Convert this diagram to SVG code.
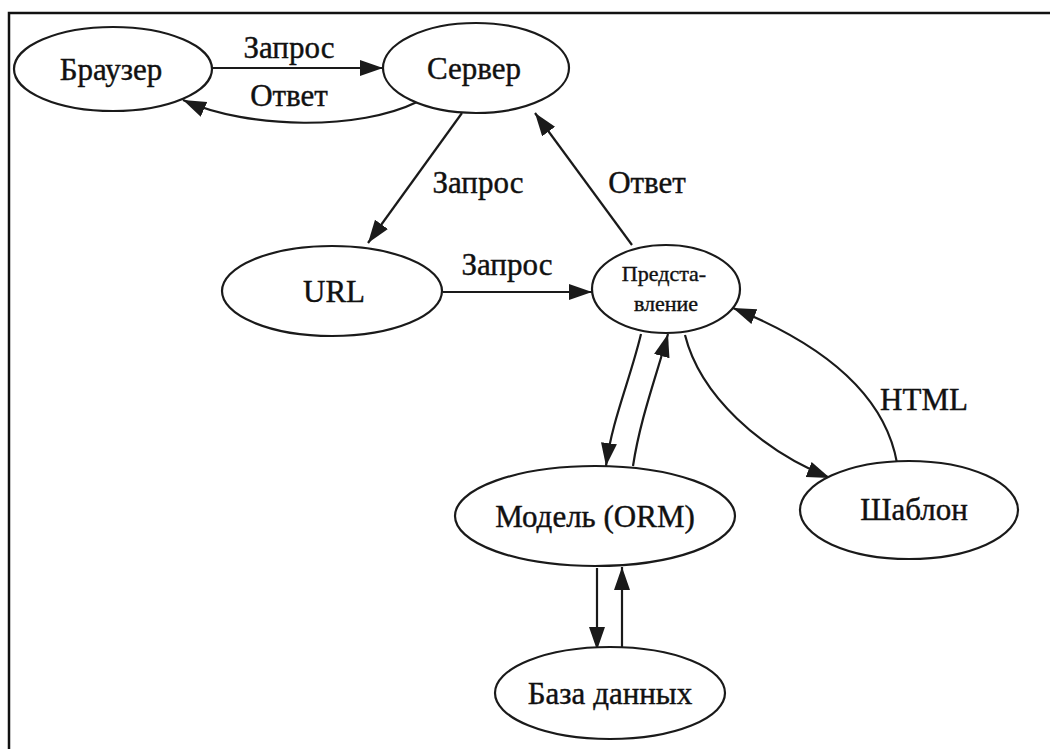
<svg xmlns="http://www.w3.org/2000/svg" width="1050" height="749" viewBox="0 0 1050 749">
  <style>
    .node ellipse { fill: #ffffff; stroke: #1a1a1a; stroke-width: 2.2; }
    .lbl { font-family: "Liberation Serif", "DejaVu Serif", serif; font-size: 31px; fill: #111111; text-anchor: middle; stroke: #111111; stroke-width: 0.4; }
    .small { font-size: 22px; }
    .edge { fill: none; stroke: #1a1a1a; stroke-width: 2.2; marker-end: url(#arrow); }
    .frame { fill: none; stroke: #111111; stroke-width: 2.5; }
  </style>
  <defs>
    <marker id="arrow" markerUnits="userSpaceOnUse" markerWidth="26" markerHeight="18" refX="23" refY="8" orient="auto">
      <path d="M0,0 L23,8 L0,16 Z" fill="#1a1a1a"/>
    </marker>
  </defs>

  <rect x="0" y="0" width="1050" height="749" fill="#ffffff"/>
  <!-- outer frame (top and left edges) -->
  <path class="frame" d="M9,749 L9,13 L1050,13"/>

  <!-- connectors -->
  <g id="edges">
    <path class="edge" d="M212,68 L383,68"/>
    <path class="edge" d="M417,102 C360,130 250,130 183,100"/>
    <path class="edge" d="M462,113 L368,243"/>
    <path class="edge" d="M632,245 L535,113"/>
    <path class="edge" d="M443,292 L592,292"/>
    <path class="edge" d="M641,334 C630,380 612,420 606,466"/>
    <path class="edge" d="M633,466 C640,420 655,380 668,334"/>
    <path class="edge" d="M685,335 C700,395 760,450 830,478"/>
    <path class="edge" d="M897,463 C885,395 825,345 733,308"/>
    <path class="edge" d="M597,568 L597,650"/>
    <path class="edge" d="M622,650 L622,567"/>

    <text class="lbl" x="289" y="58">Запрос</text>
    <text class="lbl" x="289" y="106">Ответ</text>
    <text class="lbl" x="478" y="193">Запрос</text>
    <text class="lbl" x="647" y="193">Ответ</text>
    <text class="lbl" x="507" y="275">Запрос</text>
    <text class="lbl" x="924" y="410">HTML</text>
  </g>

  <g id="browser" class="node">
    <ellipse cx="113" cy="69" rx="99" ry="42"/>
    <text class="lbl" x="111" y="80">Браузер</text>
  </g>
  <g id="server" class="node">
    <ellipse cx="476" cy="68" rx="93" ry="45"/>
    <text class="lbl" x="474" y="79">Сервер</text>
  </g>
  <g id="url" class="node">
    <ellipse cx="332" cy="291" rx="110" ry="45"/>
    <text class="lbl" x="334" y="302">URL</text>
  </g>
  <g id="view" class="node">
    <ellipse cx="666" cy="289" rx="74" ry="44"/>
    <text class="lbl small" x="664" y="281">Предста-</text>
    <text class="lbl small" x="666" y="311">вление</text>
  </g>
  <g id="model" class="node">
    <ellipse cx="595" cy="516" rx="140" ry="50"/>
    <text class="lbl" x="595" y="527">Модель (ORM)</text>
  </g>
  <g id="template" class="node">
    <ellipse cx="909" cy="510" rx="109" ry="49"/>
    <text class="lbl" x="914" y="520">Шаблон</text>
  </g>
  <g id="database" class="node">
    <ellipse cx="610" cy="693" rx="115" ry="46"/>
    <text class="lbl" x="610" y="704">База данных</text>
  </g>
</svg>
